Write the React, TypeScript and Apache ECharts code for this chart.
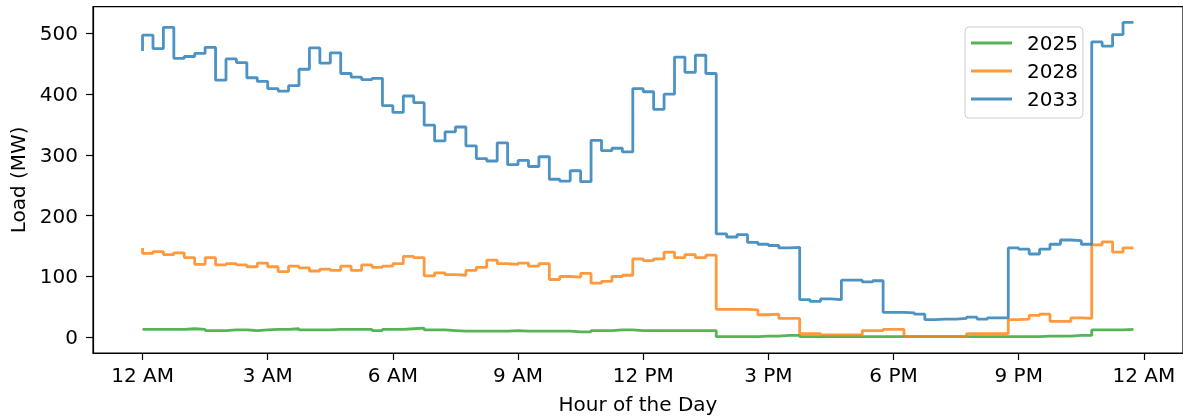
import React, { useEffect, useRef } from 'react';
import * as echarts from 'echarts';

const seriesNames = ['2025', '2028', '2033'];
const seriesColors = ['#2ca02c', '#ff7f0e', '#1f77b4'];

// 15-minute load values (MW), 96 slots starting at 12 AM
const load2025 = [
  13, 13, 13, 13, 13, 14, 13, 11, 11, 12, 12, 11, 12,
  13, 13, 14, 12, 12, 12, 13, 13, 13, 13, 11, 13, 13,
  14, 15, 12, 12, 11, 10, 10, 10, 10, 10, 11, 10,
  10, 10, 10, 10, 9, 9, 11, 11, 12, 12, 11, 11,
  11, 11, 11, 11, 11, 11, 1, 1, 1, 1, 2, 2, 3,
  3, 1, 1, 1, 1, 1, 1, 1, 1, 1, 1, 1,
  1, 1, 1, 1, 1, 1, 1, 1, 1, 1, 1, 1, 2,
  2, 2, 3, 3, 12, 12, 12, 13,
];
const load2028 = [
  147, 138, 141, 136, 139, 131, 120, 131, 119, 121, 119, 116, 122,
  116, 108, 117, 114, 109, 112, 110, 117, 110, 119, 115, 117, 121,
  133, 131, 101, 106, 103, 102, 110, 115, 127, 121, 120, 122,
  117, 121, 95, 100, 99, 105, 89, 92, 100, 102, 129, 126,
  129, 140, 131, 136, 131, 135, 46, 46, 46, 45, 37, 38, 31,
  31, 6, 6, 4, 4, 4, 4, 11, 11, 13, 13, 1,
  1, 1, 1, 1, 1, 6, 6, 6, 6, 29, 30, 36, 38,
  26, 26, 32, 31, 152, 157, 140, 147,
];
const load2033 = [
  471, 497, 475, 510, 459, 462, 467, 477, 423, 458, 452, 427, 421,
  409, 405, 414, 441, 476, 451, 468, 434, 428, 424, 426, 381, 370,
  397, 386, 349, 323, 338, 346, 315, 294, 290, 320, 284, 291,
  281, 297, 260, 257, 274, 256, 324, 307, 311, 305, 409, 404,
  375, 400, 461, 436, 464, 434, 170, 165, 169, 156, 153, 151, 147,
  148, 62, 59, 63, 62, 94, 94, 91, 93, 41, 41, 40,
  38, 29, 30, 30, 31, 33, 30, 32, 32, 147, 145, 137, 145,
  153, 160, 159, 153, 486, 479, 498, 518,
];
const seriesValues = [load2025, load2028, load2033];

const xTickHours = [0, 3, 6, 9, 12, 15, 18, 21, 24];
const xTickLabels = ['12 AM', '3 AM', '6 AM', '9 AM', '12 PM', '3 PM', '6 PM', '9 PM', '12 AM'];
const yTicks = [0, 100, 200, 300, 400, 500];

const FONT = 'DejaVu Sans';
const FS = 20;

export default function App() {
  const ref = useRef<HTMLDivElement>(null);
  useEffect(() => {
    const chart = echarts.init(ref.current!, null, { renderer: 'svg' });
    const hours = load2033.map((_, i) => i * 0.25);
    chart.setOption({
      animation: false,
      textStyle: { fontFamily: FONT },
      grid: {
        show: true,
        left: 92.7,
        top: 6.7,
        width: 1091,
        height: 346.6,
        borderColor: '#000',
        borderWidth: 1.2,
        backgroundColor: 'transparent',
      },
      legend: {
        orient: 'vertical',
        left: 965,
        top: 27,
        data: seriesNames,
        icon: 'rect',
        itemWidth: 41,
        itemHeight: 3,
        itemGap: 8,
        padding: [6, 5, 9, 6],
        backgroundColor: 'rgba(255,255,255,0.8)',
        borderColor: '#cccccc',
        borderWidth: 1,
        borderRadius: 4,
        itemStyle: { opacity: 0.8 },
        textStyle: { fontFamily: FONT, fontSize: FS, color: '#000', padding: [0, 0, 0, 10], lineHeight: 20 },
      },
      xAxis: {
        type: 'value',
        min: -1.1875,
        max: 24.9375,
        name: 'Hour of the Day',
        nameLocation: 'middle',
        nameGap: 41,
        nameTextStyle: { fontFamily: FONT, fontSize: FS, color: '#000' },
        axisLine: { show: true, onZero: false, lineStyle: { color: '#000', width: 1.2 } },
        axisTick: { show: true, length: 7, customValues: xTickHours, lineStyle: { color: '#000', width: 1.2 } },
        axisLabel: {
          customValues: xTickHours,
          margin: 12,
          fontFamily: FONT,
          fontSize: FS,
          color: '#000',
          formatter: (v: number) => {
            const idx = xTickHours.indexOf(Math.round(v));
            return idx >= 0 ? xTickLabels[idx] : '';
          },
        },
        splitLine: { show: false },
      },
      yAxis: {
        type: 'value',
        min: -25.9,
        max: 543.9,
        name: 'Load (MW)',
        nameLocation: 'middle',
        nameGap: 65,
        nameTextStyle: { fontFamily: FONT, fontSize: FS, color: '#000' },
        axisLine: { show: true, onZero: false, lineStyle: { color: '#000', width: 1.2 } },
        axisTick: { show: true, length: 7, customValues: yTicks, lineStyle: { color: '#000', width: 1.2 } },
        axisLabel: {
          customValues: yTicks,
          margin: 15,
          fontFamily: FONT,
          fontSize: FS,
          color: '#000',
        },
        splitLine: { show: false },
      },
      series: seriesNames.map((name, s) => ({
        name,
        type: 'line',
        step: 'start',
        showSymbol: false,
        symbol: 'none',
        color: seriesColors[s],
        lineStyle: { width: 2.8, opacity: 0.8, color: seriesColors[s] },
        data: seriesValues[s].map((v, i) => [hours[i], v]),
      })),
    });
    return () => chart.dispose();
  }, []);
  return <div ref={ref} style={{ position: 'fixed', left: 0, top: 0, width: 1183, height: 419 }} />;
}
